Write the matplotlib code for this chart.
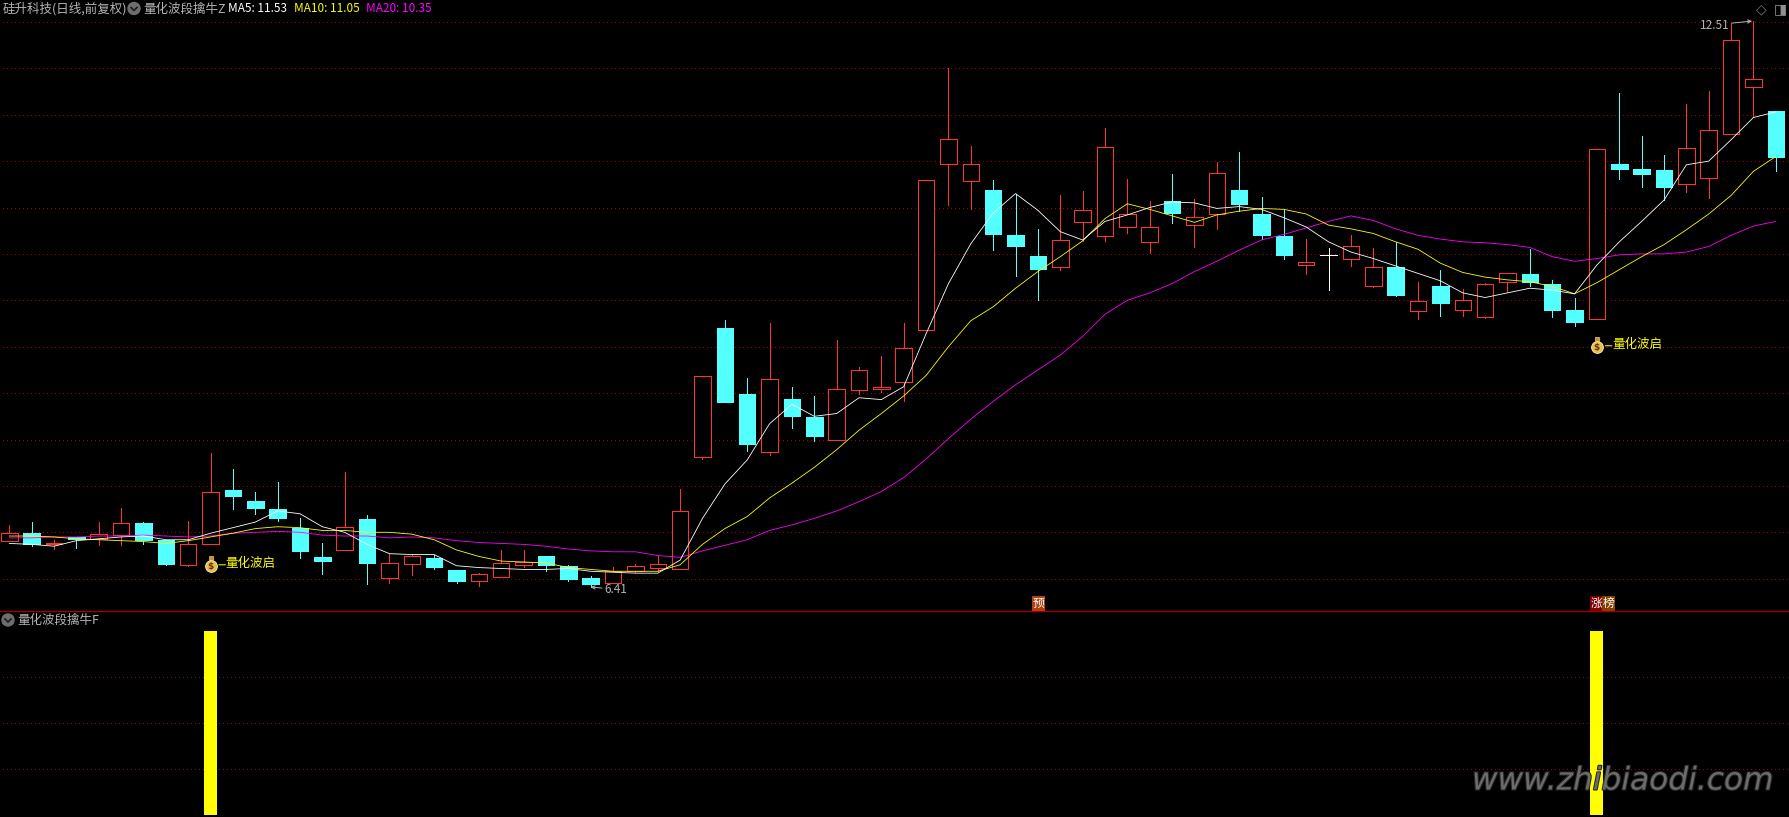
# 量化波段擒牛 日K线图 + 副图信号柱
import matplotlib
matplotlib.use('Agg')
import matplotlib.pyplot as plt
import matplotlib.patheffects as pe

plt.rcParams['font.family'] = ['Noto Sans CJK SC', 'DejaVu Sans']

opens = [6.91, 6.99, 6.87, 6.95, 6.93, 6.97, 7.10, 6.92, 6.65, 6.87,
         7.46, 7.34, 7.25, 7.05, 6.73, 6.81, 7.14, 6.51, 6.66, 6.72,
         6.59, 6.47, 6.52, 6.65, 6.74, 6.64, 6.51, 6.45, 6.58, 6.61,
         6.60, 7.81, 9.20, 8.49, 7.86, 8.44, 8.24, 8.00, 8.53, 8.54,
         8.62, 9.18, 10.97, 10.79, 10.69, 10.20, 9.98, 9.86, 10.34, 10.19,
         10.29, 10.13, 10.57, 10.31, 10.43, 10.69, 10.43, 10.19, 9.88, 9.99,
         9.94, 9.65, 9.86, 9.39, 9.65, 9.40, 9.32, 9.70, 9.78, 9.68,
         9.40, 9.30, 10.97, 10.91, 10.90, 10.75, 10.82, 11.29, 11.80, 11.54]
closes = [6.99, 6.87, 6.88, 6.93, 6.98, 7.10, 6.92, 6.66, 6.87, 7.43,
          7.39, 7.26, 7.15, 6.80, 6.69, 7.06, 6.67, 6.67, 6.74, 6.63,
          6.48, 6.55, 6.67, 6.68, 6.65, 6.50, 6.44, 6.58, 6.64, 6.66,
          7.23, 8.68, 8.40, 7.95, 8.65, 8.25, 8.04, 8.54, 8.75, 8.57,
          8.99, 10.80, 11.24, 10.97, 10.21, 10.09, 9.84, 10.15, 10.47, 11.15,
          10.43, 10.29, 10.44, 10.40, 10.87, 10.54, 10.20, 9.99, 9.91, 9.99,
          10.08, 9.86, 9.56, 9.49, 9.47, 9.50, 9.68, 9.79, 9.70, 9.40,
          9.27, 11.13, 10.92, 10.86, 10.72, 11.14, 11.33, 12.30, 11.88, 11.04]
highs = [7.08, 7.11, 6.92, 6.95, 7.11, 7.26, 7.11, 6.92, 7.12, 7.85,
         7.68, 7.43, 7.54, 7.15, 6.88, 7.65, 7.19, 6.77, 6.77, 6.76,
         6.59, 6.56, 6.81, 6.81, 6.74, 6.65, 6.53, 6.63, 6.66, 6.74,
         7.47, 8.68, 9.29, 8.66, 9.26, 8.57, 8.47, 9.07, 8.78, 8.90,
         9.26, 10.80, 12.00, 11.16, 10.80, 10.65, 10.27, 10.64, 10.68, 11.36,
         10.81, 10.57, 10.86, 10.59, 10.99, 11.10, 10.61, 10.47, 10.16, 10.06,
         10.20, 10.06, 10.13, 9.70, 9.83, 9.62, 9.69, 9.79, 10.05, 9.72,
         9.52, 11.13, 11.73, 11.27, 11.07, 11.62, 11.76, 12.49, 12.51, 11.54]
lows = [6.91, 6.85, 6.82, 6.83, 6.86, 6.86, 6.87, 6.65, 6.64, 6.87,
        7.25, 7.20, 7.12, 6.72, 6.55, 6.81, 6.44, 6.45, 6.54, 6.60,
        6.45, 6.42, 6.52, 6.63, 6.58, 6.48, 6.41, 6.45, 6.57, 6.58,
        6.60, 7.79, 8.40, 7.88, 7.83, 8.12, 7.98, 8.00, 8.49, 8.51,
        8.41, 9.18, 10.53, 10.48, 10.04, 9.76, 9.50, 9.83, 10.14, 10.14,
        10.23, 10.01, 10.33, 10.07, 10.27, 10.46, 10.16, 9.95, 9.78, 9.61,
        9.87, 9.64, 9.55, 9.30, 9.33, 9.33, 9.31, 9.59, 9.65, 9.32,
        9.22, 9.30, 10.81, 10.72, 10.58, 10.67, 10.60, 11.29, 11.48, 10.89]
ma5 = [6.88, 6.87, 6.85, 6.91, 6.93, 6.95, 6.96, 6.92, 6.92, 6.99,
       7.05, 7.11, 7.23, 7.20, 7.06, 7.00, 6.87, 6.77, 6.76, 6.76,
       6.64, 6.62, 6.61, 6.60, 6.60, 6.61, 6.58, 6.57, 6.56, 6.56,
       6.70, 7.15, 7.52, 7.78, 8.17, 8.38, 8.25, 8.28, 8.45, 8.43,
       8.57, 9.14, 9.68, 10.11, 10.44, 10.65, 10.47, 10.24, 10.15, 10.35,
       10.42, 10.50, 10.56, 10.55, 10.49, 10.51, 10.48, 10.39, 10.29, 10.13,
       10.02, 9.95, 9.87, 9.79, 9.71, 9.58, 9.53, 9.58, 9.63, 9.61,
       9.57, 9.88, 10.13, 10.35, 10.58, 10.96, 11.00, 11.23, 11.47, 11.53]
ma10 = [6.96, 6.96, 6.95, 6.93, 6.92, 6.91, 6.90, 6.88, 6.91, 6.95,
        6.99, 7.04, 7.06, 7.05, 7.02, 7.02, 7.00, 7.00, 6.98, 6.92,
        6.81, 6.74, 6.69, 6.68, 6.67, 6.62, 6.60, 6.58, 6.58, 6.58,
        6.65, 6.87, 7.04, 7.17, 7.37, 7.53, 7.70, 7.89, 8.10, 8.28,
        8.47, 8.69, 9.00, 9.28, 9.43, 9.63, 9.81, 9.97, 10.14, 10.38,
        10.54, 10.48, 10.41, 10.34, 10.42, 10.46, 10.49, 10.48, 10.43, 10.31,
        10.27, 10.22, 10.13, 10.05, 9.90, 9.80, 9.75, 9.72, 9.70, 9.65,
        9.57, 9.69, 9.83, 9.97, 10.10, 10.26, 10.43, 10.63, 10.89, 11.05]
ma20 = [6.94, 6.94, 6.95, 6.95, 6.96, 6.96, 6.97, 6.96, 6.95, 6.96,
        6.99, 7.00, 7.01, 7.00, 6.97, 6.96, 6.96, 6.94, 6.95, 6.94,
        6.91, 6.89, 6.88, 6.87, 6.85, 6.82, 6.80, 6.79, 6.79, 6.75,
        6.73, 6.80, 6.86, 6.92, 7.02, 7.08, 7.15, 7.23, 7.33, 7.44,
        7.59, 7.79, 8.01, 8.22, 8.41, 8.59, 8.75, 8.91, 9.11, 9.35,
        9.50, 9.58, 9.68, 9.81, 9.92, 10.04, 10.15, 10.21, 10.28, 10.35,
        10.41, 10.36, 10.27, 10.20, 10.16, 10.13, 10.12, 10.10, 10.07, 9.97,
        9.92, 9.95, 9.99, 10.00, 10.00, 10.02, 10.08, 10.20, 10.30, 10.35]

grid_levels = [12.5, 12.0, 11.5, 11.0, 10.5, 10.0, 9.5, 9.0, 8.5, 8.0, 7.5, 7.0, 6.5]
signal_days = [9, 71]
signal_values = [1, 1]
signal_grid = [0.25, 0.5, 0.75]
bag_days = [9, 71]
bag_prices = [6.65, 9.01]
low_day, low_price = 26, 6.41
high_day, high_price = 78, 12.51

W, H = 1789, 817
RED = '#ff3232'
CYAN = '#54ffff'
GRID = '#a00000'
GREY = '#b4b4b4'
LW = 0.72  # 1 像素
MA_LW = 0.6

fig = plt.figure(figsize=(W / 100, H / 100), dpi=100, facecolor='black')
sub_h = (H - 611) / H
ax = fig.add_axes([0, sub_h, 1, 1 - sub_h], facecolor='black')
sub = fig.add_axes([0, 0, 1, sub_h], facecolor='black')
for a in (ax, sub):
    a.set_xlim(-0.416, 79.59)
    a.set_xticks([])
    a.set_yticks([])
    for s in a.spines.values():
        s.set_visible(False)
ax.set_ylim(6.152, 12.736)
sub.set_ylim(-0.011, 1.109)

ax.hlines(grid_levels, -1, 80, color=GRID, lw=LW, ls=(0, (1, 4)), antialiased=False, zorder=1)
sub.hlines(signal_grid, -1, 80, color='#701818', lw=LW, ls=(0, (1, 4)), antialiased=False, zorder=1)

# K线
body_w = 16.5 / 22.36
for i in range(len(opens)):
    o, c = opens[i], closes[i]
    if c == o:
        col = 'white'
    elif c > o:
        col = RED
    else:
        col = CYAN
    ax.vlines(i, lows[i], highs[i], color=col, lw=LW, antialiased=False, zorder=2)
    if c == o:
        ax.hlines(c, i - body_w / 2, i + body_w / 2, color=col, lw=LW, antialiased=False, zorder=3)
    else:
        ax.bar(i, abs(c - o), bottom=min(o, c), width=body_w,
               facecolor='black' if c > o else CYAN, edgecolor=col, lw=LW,
               antialiased=False, zorder=3)

days = list(range(len(ma5)))
ax.plot(days, ma20, color='#ff00ff', lw=MA_LW, zorder=4)
ax.plot(days, ma10, color='#ffff00', lw=MA_LW, zorder=5)
ax.plot(days, ma5, color='white', lw=MA_LW, zorder=6)

# 钱袋标记 + 文字
for d, p in zip(bag_days, bag_prices):
    ax.plot([d], [p - 0.01], 'o', ms=8.5, mfc='#e8c050', mec='#fff0b0', mew=0.6, zorder=7)
    ax.plot([d], [p + 0.075], 's', ms=3.2, mfc='#c89030', mec='#fff0b0', mew=0.4, zorder=7)
    ax.text(d, p - 0.015, '$', color='#703000', fontsize=6.5, ha='center', va='center',
            family='DejaVu Sans', weight='bold', zorder=8)
    ax.annotate('', xy=(d, p), xytext=(15, 0), textcoords='offset pixels',
                arrowprops=dict(arrowstyle='-', color='#ffff00', lw=LW, shrinkA=0, shrinkB=6))
    ax.annotate('量化波启', xy=(d, p), xytext=(15, 1), textcoords='offset pixels',
                color='#ffff00', fontsize=9, va='center', ha='left', zorder=8)

# 最高最低价标注
ax.annotate('6.41', xy=(low_day, low_price), xytext=(14, -2.5), textcoords='offset pixels',
            color=GREY, fontsize=8.5, va='center', ha='left',
            arrowprops=dict(arrowstyle='->', color=GREY, lw=LW, shrinkA=0, shrinkB=0,
                            mutation_scale=6, relpos=(0, 0.6)))
ax.annotate('12.51', xy=(high_day, high_price), xytext=(-54, -5), textcoords='offset pixels',
            color=GREY, fontsize=8.5, va='center', ha='left',
            arrowprops=dict(arrowstyle='->', color=GREY, lw=LW, shrinkA=0, shrinkB=1,
                            mutation_scale=6, relpos=(1, 0.7)))

# 副图信号柱
sub.bar(signal_days, signal_values, width=13 / 22.36, color='#ffff00', antialiased=False, zorder=2)
sub.axhline(sub.get_ylim()[1], color='#a00000', lw=1.0, zorder=3, clip_on=False)


def px_text(x, y, s, **kw):
    kw.setdefault('va', 'center')
    kw.setdefault('ha', 'left')
    fig.text(x / W, 1 - y / H, s, **kw)


def px_icon(x, y):
    fig.add_artist(plt.Circle((x, H - y), 6, color='#6e6e6e', transform=None, zorder=5))
    fig.add_artist(plt.Line2D([x - 3, x, x + 3], [H - y + 1, H - y - 2, H - y + 1], color='#1c1c1c',
                              lw=1.2, transform=None, zorder=6))


px_text(3, 9, '硅升科技(日线,前复权)', color=GREY, fontsize=9)
px_icon(134, 8.5)
px_text(143.5, 9, '量化波段擒牛Z', color=GREY, fontsize=9)
px_text(228, 9, 'MA5: 11.53', color='white', fontsize=8.5)
px_text(293.5, 9, 'MA10: 11.05', color='#ffff00', fontsize=8.5)
px_text(365.5, 9, 'MA20: 10.35', color='#ff00ff', fontsize=8.5)
px_icon(8, 620)
px_text(17, 620, '量化波段擒牛F', color=GREY, fontsize=9)

# 右上角图标
px_text(1761.7, 9.3, '◇', color='#707070', fontsize=10, ha='center', family='DejaVu Sans')
px_text(1780, 9.3, '◨', color='#909090', fontsize=10, ha='center', family='DejaVu Sans')

# 分时标记
px_text(1038.5, 603.5, '预', color='white', fontsize=8.5, ha='center',
        bbox=dict(boxstyle='square,pad=0.05', fc='#b04010', ec='none'))
px_text(1596, 603.5, '涨', color='white', fontsize=8.5, ha='center',
        bbox=dict(boxstyle='square,pad=0.05', fc='#800000', ec='none'))
px_text(1608.5, 603.5, '榜', color='white', fontsize=8.5, ha='center',
        bbox=dict(boxstyle='square,pad=0.05', fc='#804000', ec='none'))

# 水印
px_text(1472, 781, 'www.zhibiaodi.com', color='#6c6c6c', fontsize=22.5, style='italic',
        family='DejaVu Sans', zorder=10,
        path_effects=[pe.withStroke(linewidth=1.5, foreground='#262626')])

plt.savefig('out.png', dpi=100, facecolor='black')
